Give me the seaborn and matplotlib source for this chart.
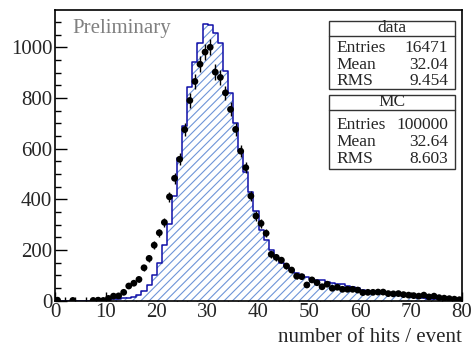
import numpy as np
import pandas as pd
import matplotlib
matplotlib.use("Agg")
import matplotlib.pyplot as plt
from matplotlib.patches import Rectangle
import seaborn as sns

# ---------------- data ----------------
bin_edges = list(range(0, 81))
data_counts = [2, np.nan, np.nan, 1, np.nan, np.nan, np.nan, 1, 2, 1,
               9, 18, 19, 33, 58, 69, 84, 130, 167, 219,
               268, 309, 410, 483, 558, 675, 790, 865, 933, 981,
               1000, 902, 881, 820, 755, 676, 590, 525, 413, 334,
               305, 266, 183, 171, 160, 137, 121, 97, 95, 62,
               82, 71, 55, 65, 49, 53, 45, 45, 45, 42,
               32, 33, 33, 34, 34, 28, 27, 28, 24, 22,
               20, 18, 22, 15, 18, 12, 10, 8, 6, 4]
mc_counts = [0, 0, 0, 0, 0, 0, 0, 0, 0, 1,
             3, 5, 8, 10, 12, 13, 22, 40, 62, 100,
             147, 219, 302, 415, 562, 689, 842, 943, 1015, 1091,
             1087, 1057, 1018, 906, 820, 700, 590, 509, 430, 355,
             277, 240, 200, 167, 150, 135, 122, 110, 100, 92,
             84, 82, 80, 72, 70, 66, 64, 58, 55, 50,
             44, 40, 38, 35, 32, 29, 26, 23, 20, 17,
             15, 12, 10, 8, 7, 6, 5, 4, 3, 2]
xlabel = "number of hits / event"
stats_data = [("Entries", "16471"), ("Mean", "32.04"), ("RMS", "9.454")]
stats_mc = [("Entries", "100000"), ("Mean", "32.64"), ("RMS", "8.603")]

# ---------------- style ----------------
sns.set_style("ticks")
plt.rcParams["font.family"] = ["Liberation Serif", "DejaVu Serif"]
plt.rcParams["hatch.linewidth"] = 0.8

edges = np.array(bin_edges, dtype=float)
centers = (edges[:-1] + edges[1:]) / 2
nbins = len(centers)
df = pd.DataFrame({"nhits": centers, "mc": mc_counts, "data": data_counts})

fig = plt.figure(figsize=(4.72, 3.49), dpi=100)
W, H = 472, 349
ax = fig.add_axes([55 / W, 1 - 300.7 / H, (462 - 55) / W, (300.7 - 10) / H])

light_blue = "#6f95d8"
dark_blue = "#1010a8"
brange = (edges[0], edges[-1])

# hatched MC fill
sns.histplot(data=df, x="nhits", weights="mc", bins=nbins, binrange=brange,
             element="step", fill=True, facecolor="white",
             edgecolor=light_blue, hatch="////", linewidth=0, ax=ax)
# MC outline
sns.histplot(data=df, x="nhits", weights="mc", bins=nbins, binrange=brange,
             element="step", fill=False, color=dark_blue, linewidth=1.1, ax=ax)

# data points with sqrt(N) errors
dd = df.dropna(subset=["data"])
ax.errorbar(dd["nhits"], dd["data"], yerr=np.sqrt(dd["data"]), fmt="none",
            ecolor="black", elinewidth=1.0, capsize=0, zorder=4)
sns.scatterplot(data=dd, x="nhits", y="data", color="black", s=24,
                edgecolor="none", ax=ax, zorder=5)

ax.set_xlim(0, 80)
ax.set_ylim(0, 1147)
ax.set_ylabel("")
ax.set_xlabel(xlabel, loc="right", fontsize=15, labelpad=4)

ax.set_xticks(np.arange(0, 81, 10))
ax.set_xticks(np.arange(0, 81, 2), minor=True)
ax.set_yticks(np.arange(0, 1001, 200))
ax.set_yticks(np.arange(0, 1101, 50), minor=True)
ax.tick_params(axis="both", which="both", direction="in", labelsize=15,
               color="black", width=1.0)
ax.tick_params(axis="x", which="major", length=6.3, pad=2)
ax.tick_params(axis="x", which="minor", length=3.2)
ax.tick_params(axis="y", which="major", length=8.8, pad=2)
ax.tick_params(axis="y", which="minor", length=4.4)
for s in ax.spines.values():
    s.set_visible(True)
    s.set_linewidth(1.2)
    s.set_color("black")

ax.text(72.7 / W, 1 - 28.5 / H, "Preliminary", transform=fig.transFigure,
        fontsize=15, color="#808080", ha="left", va="center")

# stats boxes (figure pixel coordinates)
def px(x, y):
    return x / W, 1 - y / H

def stats_box(top, line_y, bottom, title, rows, row_ys):
    x0, x1 = 329.3, 455
    fx0, fy0 = px(x0, bottom)
    fx1, fy1 = px(x1, top)
    fig.patches.append(Rectangle((fx0, fy0), fx1 - fx0, fy1 - fy0,
                                 transform=fig.transFigure, facecolor="white",
                                 edgecolor="#333333", linewidth=1.0, zorder=10))
    lx0, ly = px(x0, line_y)
    lx1, _ = px(x1, line_y)
    fig.add_artist(plt.Line2D([lx0, lx1], [ly, ly], transform=fig.transFigure,
                              color="#333333", linewidth=1.0, zorder=11))
    tx, ty = px((x0 + x1) / 2, (top + line_y) / 2)
    fig.text(tx, ty, title, fontsize=12.5, ha="center", va="center", zorder=12)
    for (lab, val), ry in zip(rows, row_ys):
        a, b = px(336, ry)
        fig.text(a, b, lab, fontsize=12.5, ha="left", va="center", zorder=12)
        a, b = px(448, ry)
        fig.text(a, b, val, fontsize=12.5, ha="right", va="center", zorder=12)

stats_box(20.7, 35.7, 89.3, "data", stats_data, [48, 65, 81])
stats_box(95, 110, 169.3, "MC", stats_mc, [125, 142, 159])

fig.savefig("out.png", dpi=100)
